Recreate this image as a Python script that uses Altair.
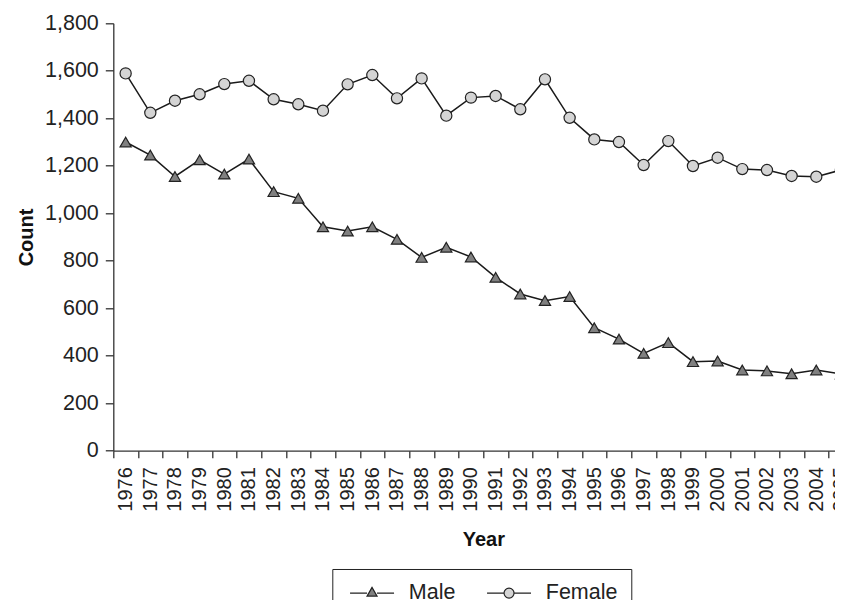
import altair as alt
import pandas as pd

years = [str(y) for y in range(1976, 2006)]
male = [1300, 1245, 1155, 1225, 1165, 1228, 1091, 1063, 943, 925,
        943, 890, 814, 857, 816, 730, 660, 632, 649, 518,
        470, 410, 455, 375, 378, 340, 336, 324, 340, 323]
female = [1589, 1423, 1474, 1501, 1544, 1558, 1480, 1459, 1432, 1543,
          1582, 1484, 1568, 1411, 1487, 1494, 1438, 1564, 1402, 1311,
          1300, 1203, 1304, 1199, 1234, 1186, 1182, 1157, 1154, 1182]
series_names = ["Male", "Female"]
fills = ["#808080", "#d4d4d4"]
outline = ["#222222", "#222222"]
marker_shapes = ["triangle-up", "circle"]
# legend glyphs: line stub with marker, unit = 5px (symbolSize 100)
legend_shapes = [
    "M-1.2,0L2.2,0M4.2,0L7.6,0M3.2,-1.15L2.2,0.6L4.2,0.6Z",
    "M-1.2,0L2.2,0M4.2,0L7.6,0M4.2,0A1,1 0 1,1 2.2,0A1,1 0 1,1 4.2,0Z",
]
y_ticks = list(range(0, 1801, 200))

rows = []
for name, vals in zip(series_names, [male, female]):
    for yr, v in zip(years, vals):
        rows.append({"year": yr, "value": v, "series": name, "lg": name})
df = pd.DataFrame(rows)

FONT = "Liberation Sans"

x_enc = alt.X(
    "year:O",
    sort=years,
    bandPosition=0.5,
    scale=alt.Scale(type="band", paddingInner=0, paddingOuter=0, range=[0, 740]),
    axis=alt.Axis(
        title="Year", labelAngle=-90, tickBand="extent", labelOverlap=False,
        labelFontSize=20, labelFont=FONT, labelColor="#222", labelPadding=9,
        tickSize=7, tickColor="#333", tickWidth=1.3, domainColor="#333", domainWidth=1.3,
        titleFontSize=20, titleFont=FONT, titleFontWeight="bold", titleColor="#111",
        titlePadding=18, grid=False,
    ),
)
y_enc = alt.Y(
    "value:Q",
    scale=alt.Scale(domain=[0, 1800], nice=False),
    axis=alt.Axis(
        title="Count", values=y_ticks, format=",d",
        labelFontSize=21.5, labelFont=FONT, labelColor="#222", labelPadding=7,
        tickSize=8, tickColor="#333", tickWidth=1.3, domainColor="#333", domainWidth=1.3,
        titleFontSize=20, titleFont=FONT, titleFontWeight="bold", titleColor="#111",
        titlePadding=8, grid=False,
    ),
)

base = alt.Chart(df)

lines = base.mark_line(color="#1a1a1a", strokeWidth=1.5).encode(
    x=x_enc, y=y_enc, detail="series:N"
)

points = base.mark_point(filled=True, stroke="#222", strokeWidth=1.2, opacity=1, size=125).encode(
    x=x_enc, y=y_enc,
    shape=alt.Shape("series:N", scale=alt.Scale(domain=series_names, range=marker_shapes), legend=None),
    fill=alt.Fill("series:N", scale=alt.Scale(domain=series_names, range=fills), legend=None),
)

legend_opts = dict(
    title=None, orient="none", legendX=219, legendY=545.7, direction="horizontal",
    strokeColor="#222", padding=13, symbolSize=100, symbolStrokeWidth=1.2,
    symbolStrokeColor="#222", symbolOpacity=1, labelFontSize=21.5, labelFont=FONT,
    labelColor="#222", labelOffset=42, columnPadding=26,
)

legend_layer = base.transform_filter("datum.value < 0").mark_point(
    filled=True, strokeWidth=1.2, opacity=1
).encode(
    shape=alt.Shape("lg:N", scale=alt.Scale(domain=series_names, range=legend_shapes),
                    legend=alt.Legend(**legend_opts)),
    fill=alt.Fill("lg:N", scale=alt.Scale(domain=series_names, range=fills),
                  legend=alt.Legend(**legend_opts)),
    stroke=alt.Stroke("lg:N", scale=alt.Scale(domain=series_names, range=outline),
                      legend=alt.Legend(**legend_opts)),
)

chart = alt.layer(lines, points, legend_layer).resolve_scale(
    shape="independent", fill="independent", stroke="independent"
).properties(
    width=722, height=427.4,
    autosize=alt.AutoSizeParams(type="none"),
    padding={"left": 105.3, "top": 15.3, "right": 0, "bottom": 149},
).configure(background="white").configure_view(stroke="transparent", strokeWidth=0)

chart.save("out.html", embed_options={"renderer": "svg", "actions": False})
